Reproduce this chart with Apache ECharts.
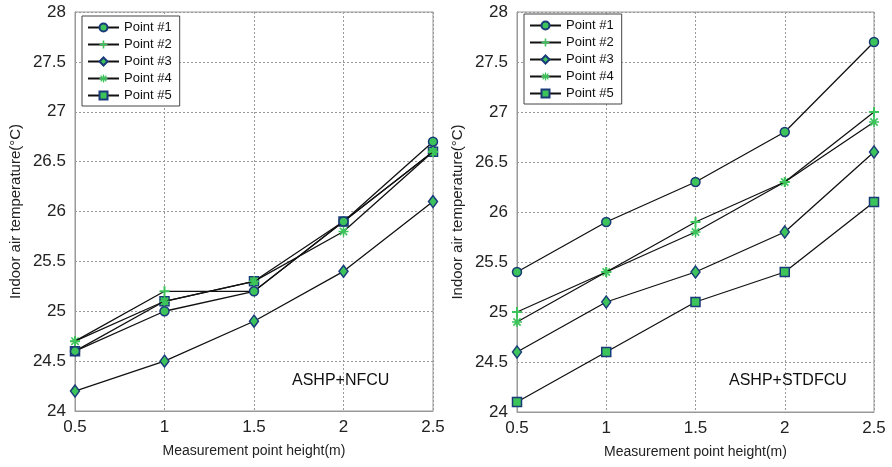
<!DOCTYPE html>
<html>
<head>
<meta charset="utf-8">
<script src="https://cdn.jsdelivr.net/npm/echarts@6/dist/echarts.min.js"></script>
<style>
  html, body { margin: 0; padding: 0; background: #fff; }
  #main { width: 892px; height: 467px; }
</style>
</head>
<body>
<div id="main"></div>
<script>
var heights = [0.5, 1, 1.5, 2, 2.5];
var names = ['Point #1', 'Point #2', 'Point #3', 'Point #4', 'Point #5'];

// ASHP+NFCU
var nfcu1 = [24.6, 25.0, 25.2, 25.9, 26.7];
var nfcu2 = [24.7, 25.2, 25.2, 25.9, 26.6];
var nfcu3 = [24.2, 24.5, 24.9, 25.4, 26.1];
var nfcu4 = [24.7, 25.1, 25.3, 25.8, 26.6];
var nfcu5 = [24.6, 25.1, 25.3, 25.9, 26.6];

// ASHP+STDFCU
var std1 = [25.4, 25.9, 26.3, 26.8, 27.7];
var std2 = [25.0, 25.4, 25.9, 26.3, 27.0];
var std3 = [24.6, 25.1, 25.4, 25.8, 26.6];
var std4 = [24.9, 25.4, 25.8, 26.3, 26.9];
var std5 = [24.1, 24.6, 25.1, 25.4, 26.1];

var yTicks = [24, 24.5, 25, 25.5, 26, 26.5, 27, 27.5, 28];

var green = '#3cc35a';
var edge = '#1a3a7a';
var plusPath = 'path://M4,0H6V4H10V6H6V10H4V6H0V4H4Z';
var starPath = 'path://M4.2,0H5.8V3.1L8.1,0.8L9.2,1.9L6.9,4.2H10V5.8H6.9L9.2,8.1L8.1,9.2L5.8,6.9V10H4.2V6.9L1.9,9.2L0.8,8.1L3.1,5.8H0V4.2H3.1L0.8,1.9L1.9,0.8L4.2,3.1Z';

var markers = [
  {symbol: 'circle', size: 9, border: edge, bw: 1.5},
  {symbol: plusPath, size: 10, border: green, bw: 0},
  {symbol: 'diamond', size: [9, 12], border: edge, bw: 1.5},
  {symbol: starPath, size: 10, border: green, bw: 0},
  {symbol: 'rect', size: 9, border: edge, bw: 1.5}
];

function pairs(vals) {
  var out = [];
  for (var i = 0; i < heights.length; i++) out.push([heights[i], vals[i]]);
  return out;
}

function makeSeries(sets, idx) {
  var s = [];
  for (var k = 0; k < sets.length; k++) {
    var m = markers[k];
    s.push({
      name: names[k],
      type: 'line',
      xAxisIndex: idx,
      yAxisIndex: idx,
      data: pairs(sets[k]),
      symbol: m.symbol,
      symbolSize: m.size,
      lineStyle: {color: '#111', width: 1.3},
      itemStyle: {color: green, borderColor: m.border, borderWidth: m.bw},
      emphasis: {disabled: true},
      z: 3 + (sets.length - k)
    });
  }
  return s;
}

function xAxis(idx) {
  return {
    type: 'value', gridIndex: idx, min: 0.5, max: 2.5, interval: 0.5,
    name: 'Measurement point height(m)', nameLocation: 'middle', nameGap: 33,
    nameTextStyle: {fontFamily: 'Liberation Sans', fontSize: 14, color: '#222'},
    axisLine: {lineStyle: {color: '#999'}},
    axisTick: {show: false},
    axisLabel: {fontFamily: 'Liberation Sans', fontSize: 17, color: '#222', margin: 8},
    splitLine: {lineStyle: {color: '#999', type: [2, 2], width: 1}}
  };
}

function yAxis(idx) {
  return {
    type: 'value', gridIndex: idx, min: 24, max: 28, interval: 0.5,
    name: 'Indoor air temperature(°C)', nameLocation: 'middle', nameGap: 52,
    nameTextStyle: {fontFamily: 'Liberation Sans', fontSize: 15, color: '#222'},
    axisLine: {show: true, lineStyle: {color: '#999'}},
    axisTick: {show: false},
    axisLabel: {fontFamily: 'Liberation Sans', fontSize: 17, color: '#222', margin: 9,
      formatter: function (v) { return yTicks.indexOf(v) >= 0 ? String(v) : ''; }},
    splitLine: {lineStyle: {color: '#999', type: [2, 2], width: 1}}
  };
}

function legend(left, top) {
  return {
    data: names,
    left: left, top: top,
    orient: 'vertical',
    itemGap: 4,
    itemWidth: 31, itemHeight: 10,
    padding: [5, 8, 4, 5],
    borderColor: '#444', borderWidth: 1, backgroundColor: '#fff',
    textStyle: {fontFamily: 'Liberation Sans', fontSize: 13, color: '#111'},
    selectedMode: false
  };
}

var chart = echarts.init(document.getElementById('main'), null, {renderer: 'canvas'});

var series = makeSeries([nfcu1, nfcu2, nfcu3, nfcu4, nfcu5], 0)
  .concat(makeSeries([std1, std2, std3, std4, std5], 1));

chart.setOption({
  animation: false,
  backgroundColor: '#fff',
  grid: [
    {left: 75, top: 12, width: 358, height: 399, show: true, borderColor: '#999', borderWidth: 1},
    {left: 517, top: 12, width: 357, height: 400, show: true, borderColor: '#999', borderWidth: 1}
  ],
  xAxis: [xAxis(0), xAxis(1)],
  yAxis: [yAxis(0), yAxis(1)],
  legend: [legend(82, 16), legend(524, 14)],
  graphic: [
    {type: 'text', left: 292, top: 373, z: 10,
     style: {text: 'ASHP+NFCU', font: '16px "Liberation Sans"', fill: '#111'}},
    {type: 'text', left: 729, top: 373, z: 10,
     style: {text: 'ASHP+STDFCU', font: '16px "Liberation Sans"', fill: '#111'}}
  ],
  series: series
});
</script>
</body>
</html>
